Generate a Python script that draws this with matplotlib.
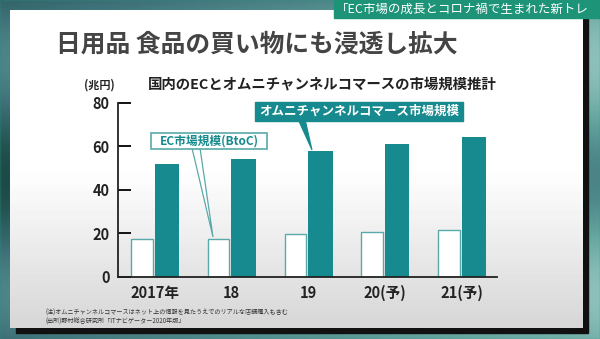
import matplotlib
matplotlib.use('Agg')
import matplotlib.pyplot as plt
from matplotlib.patches import Polygon, Rectangle
import numpy as np

plt.rcParams['font.family'] = ['Noto Sans CJK JP', 'DejaVu Sans']

# data (兆円)
years = ['2017年', '18', '19', '20(予)', '21(予)']
ec_btoc = [17.4, 17.5, 19.5, 20.4, 21.5]
omni = [51.8, 54.0, 57.7, 61.0, 64.3]
yticks = [0, 20, 40, 60, 80]

title = '日用品 食品の買い物にも浸透し拡大'
subtitle = '国内のECとオムニチャンネルコマースの市場規模推計'
banner = '「EC市場の成長とコロナ禍で生まれた新トレ'
note1 = '(注)オムニチャンネルコマースはネット上の情報を見たうえでのリアルな店舗購入も含む'
note2 = '(出所)野村総合研究所「ITナビゲーター2020年版」'

TEAL = '#168a8e'
W, H = 600, 339

def box(x0, y0, x1, y1):
    # pixel box -> figure fraction
    return [x0 / W, 1 - y1 / H, (x1 - x0) / W, (y1 - y0) / H]

fig = plt.figure(figsize=(6, 3.39), dpi=100)

# background (blurred teal screen)
bg = fig.add_axes([0, 0, 1, 1])
gy, gx = np.mgrid[0:1:120j, 0:1:200j]
shade = 0.4 + 0.2 * gx + 0.1 * np.sin(gy * 9)
bg.imshow(shade, cmap='bone', extent=[0, W, H, 0], aspect='auto')
bg.add_patch(Rectangle((0, 0), W, H, color='#2f8c80', alpha=0.55))
bg.set_xlim(0, W)
bg.set_ylim(H, 0)
bg.axis('off')

# panel shadow + panel
bg.add_patch(Rectangle((16, 14), 572, 319, color='#111111'))
grad = np.linspace(0, 1, 100)[:, None]
grad = np.where(grad < 0.5, 1.0, 1.0 - (grad - 0.5) / 0.5 * 0.16)
bg.imshow(grad, cmap='gray', vmin=0, vmax=1, extent=[10, 583, 328, 10], aspect='auto', zorder=2)

# banner
bg.add_patch(Rectangle((334, 0), 266, 18, color='#1d9478', zorder=3))
bg.text(336, 9, banner, color='white', fontsize=9, va='center', ha='left', zorder=4)

# texts on panel
bg.text(56, 45, title, fontsize=17.8, fontweight='bold', color='#444444', va='center', zorder=4)
bg.text(148, 85, subtitle, fontsize=10.4, fontweight='bold', color='#222222', va='center', zorder=4)
bg.text(99, 85, '(兆円)', fontsize=8, fontweight='bold', color='#222222', va='center', ha='center', zorder=4)
bg.text(46, 313, note1, fontsize=4.4, color='#333333', va='center', zorder=4)
bg.text(46, 322, note2, fontsize=4.4, color='#333333', va='center', zorder=4)

# chart
ax = fig.add_axes(box(118, 102.7, 497, 276.7))
ax.patch.set_alpha(0)
x = np.arange(len(years))
ax.bar(x - 0.17, ec_btoc, width=0.28, color='white', edgecolor='#5aa9a8', linewidth=1.0)
ax.bar(x + 0.155, omni, width=0.32, color=TEAL)
ax.set_xlim(-0.482, 4.456)
ax.set_ylim(0, 80)
ax.set_yticks(yticks)
ax.set_xticks(x)
ax.set_xticklabels(years)
for s in ['top', 'right']:
    ax.spines[s].set_visible(False)
for s in ['left', 'bottom']:
    ax.spines[s].set_linewidth(1.3)
    ax.spines[s].set_color('#222222')
ax.tick_params(axis='y', direction='in', length=9, width=1.3, labelsize=10.5, pad=6)
ax.tick_params(axis='x', length=0, labelsize=10.5, pad=6)
for lab in ax.get_xticklabels() + ax.get_yticklabels():
    lab.set_fontweight('bold')
    lab.set_color('#222222')

# callouts in pixel space
bg.add_patch(Polygon([[192, 148], [200, 148], [213, 237]], closed=True,
                     facecolor='white', edgecolor='#5aa9a8', linewidth=0.9, zorder=5))
bg.add_patch(Rectangle((151, 133), 116, 16, facecolor='white', edgecolor='#5aa9a8',
                       linewidth=1.2, zorder=6))
bg.text(209, 141, 'EC市場規模(BtoC)', color=TEAL, fontsize=8.5, fontweight='bold',
        ha='center', va='center', zorder=7)

bg.add_patch(Polygon([[298, 119], [305, 119], [312, 150]], closed=True,
                     facecolor=TEAL, edgecolor=TEAL, linewidth=0.8, zorder=5))
bg.add_patch(Rectangle((255, 102), 208, 19, facecolor=TEAL, edgecolor=TEAL, zorder=6))
bg.text(359, 111.5, 'オムニチャンネルコマース市場規模', color='white', fontsize=9,
        fontweight='bold', ha='center', va='center', zorder=7)

fig.savefig('out.png', dpi=100)
